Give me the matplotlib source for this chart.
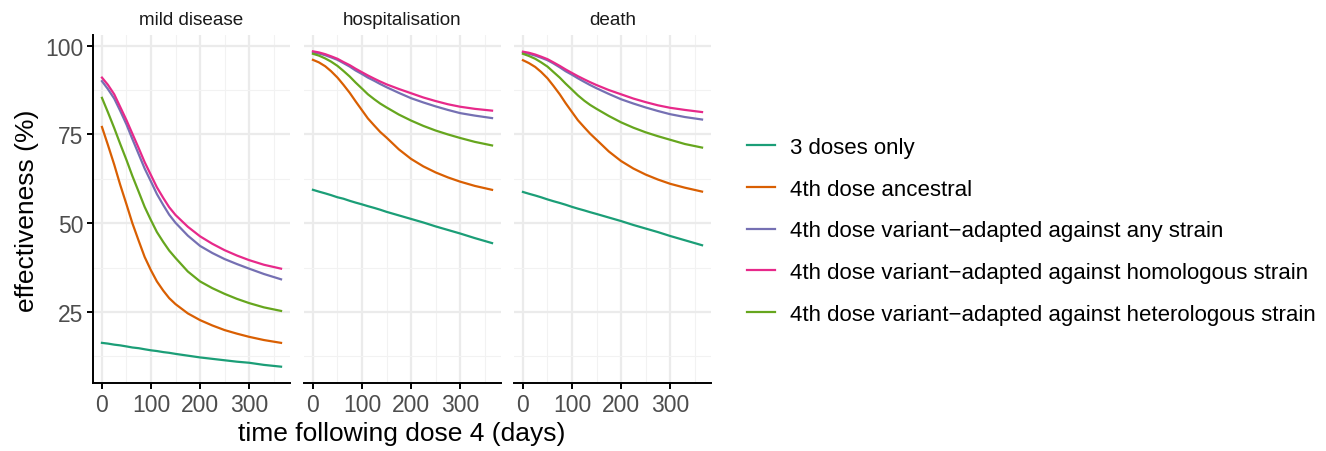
import numpy as np
import matplotlib.pyplot as plt
from matplotlib.lines import Line2D

plt.rcParams['font.family'] = ['Liberation Sans', 'DejaVu Sans']

# Values (effectiveness in %)
days = [0, 12, 25, 37, 50, 62, 75, 87, 100, 112, 125, 137, 150, 175, 200, 225, 250, 275, 300, 330, 365]
panels = ['mild disease', 'hospitalisation', 'death']
series = ['3 doses only',
          '4th dose ancestral',
          '4th dose variant\u2212adapted against any strain',
          '4th dose variant\u2212adapted against homologous strain',
          '4th dose variant\u2212adapted against heterologous strain']
colors = ['#1B9E77', '#D95F02', '#7570B3', '#E7298A', '#66A61E']

mild_three = [16.3, 16.1, 15.8, 15.6, 15.3, 15.0, 14.8, 14.5, 14.2, 14.0, 13.7, 13.5, 13.2,
              12.7, 12.2, 11.8, 11.4, 11.0, 10.7, 10.1, 9.6]
mild_ancestral = [77.1, 72.1, 66.5, 60.9, 55.3, 50.0, 45.0, 40.5, 36.7, 33.6, 31.0, 28.9, 27.2,
                  24.6, 22.7, 21.2, 19.9, 18.9, 18.0, 17.1, 16.3]
mild_any = [90.0, 87.8, 85.1, 81.7, 77.8, 73.7, 69.4, 65.4, 61.7, 58.2, 55.1, 52.4, 50.1,
            46.5, 43.6, 41.6, 39.9, 38.5, 37.2, 35.7, 34.2]
mild_homologous = [91.0, 89.0, 86.3, 82.8, 79.0, 75.2, 71.1, 67.2, 63.5, 60.1, 57.1, 54.5, 52.3,
                   49.0, 46.3, 44.2, 42.4, 40.9, 39.6, 38.3, 37.2]
mild_heterologous = [85.3, 81.3, 76.8, 72.4, 67.8, 63.3, 58.8, 54.6, 50.8, 47.5, 44.7, 42.3, 40.2,
                     36.4, 33.6, 31.7, 30.1, 28.7, 27.5, 26.3, 25.3]

hosp_three = [59.4, 58.9, 58.4, 57.9, 57.3, 56.9, 56.3, 55.8, 55.3, 54.8, 54.3, 53.8, 53.2,
              52.2, 51.2, 50.2, 49.1, 48.1, 47.1, 45.8, 44.4]
hosp_ancestral = [96.0, 95.3, 94.2, 92.8, 91.0, 89.0, 86.7, 84.3, 81.8, 79.5, 77.5, 75.7, 74.1,
                  70.8, 68.1, 66.0, 64.3, 62.9, 61.7, 60.5, 59.4]
hosp_any = [98.1, 97.8, 97.3, 96.7, 96.0, 95.1, 94.1, 93.0, 92.0, 91.0, 90.1, 89.2, 88.3,
            86.7, 85.2, 84.0, 82.9, 81.9, 81.0, 80.3, 79.6]
hosp_homologous = [98.4, 98.1, 97.6, 97.0, 96.3, 95.4, 94.5, 93.5, 92.5, 91.6, 90.7, 89.9, 89.1,
                   87.8, 86.6, 85.4, 84.4, 83.5, 82.8, 82.2, 81.7]
hosp_heterologous = [97.7, 97.2, 96.4, 95.5, 94.3, 92.9, 91.3, 89.6, 87.9, 86.3, 84.9, 83.7, 82.6,
                     80.6, 78.9, 77.4, 76.1, 75.0, 74.0, 72.9, 71.9]

death_three = [58.8, 58.3, 57.8, 57.3, 56.7, 56.2, 55.7, 55.2, 54.6, 54.1, 53.6, 53.1, 52.6,
               51.6, 50.6, 49.5, 48.5, 47.5, 46.4, 45.2, 43.8]
death_ancestral = [95.9, 95.1, 94.0, 92.6, 90.8, 88.7, 86.3, 83.8, 81.3, 79.0, 77.0, 75.2, 73.5,
                   70.2, 67.5, 65.4, 63.7, 62.3, 61.1, 60.0, 58.9]
death_any = [98.1, 97.7, 97.2, 96.6, 95.9, 95.0, 93.9, 92.8, 91.8, 90.8, 89.8, 88.9, 88.0,
             86.4, 84.9, 83.7, 82.6, 81.6, 80.7, 79.9, 79.2]
death_homologous = [98.3, 98.0, 97.5, 96.9, 96.2, 95.3, 94.3, 93.3, 92.3, 91.4, 90.5, 89.7, 88.9,
                    87.5, 86.3, 85.1, 84.1, 83.2, 82.5, 81.9, 81.3]
death_heterologous = [97.7, 97.1, 96.3, 95.3, 94.1, 92.6, 91.0, 89.3, 87.6, 86.0, 84.5, 83.3, 82.2,
                      80.2, 78.4, 76.9, 75.6, 74.5, 73.5, 72.3, 71.3]

data = [
    [mild_three, mild_ancestral, mild_any, mild_homologous, mild_heterologous],
    [hosp_three, hosp_ancestral, hosp_any, hosp_homologous, hosp_heterologous],
    [death_three, death_ancestral, death_any, death_homologous, death_heterologous],
]

W, H = 1326, 452
fig = plt.figure(figsize=(W / 100, H / 100), dpi=100)

# panel boxes in pixels
lefts = [93, 304, 514]
pw = 197
top, bottom = 36, 384

grey = '#4D4D4D'
for i, name in enumerate(panels):
    ax = fig.add_axes([lefts[i] / W, (H - bottom) / H, pw / W, (bottom - top) / H])
    for vals, c in zip(data[i], colors):
        ax.plot(days, vals, color=c, lw=1.6, solid_joinstyle='round', zorder=3)

    ax.set_xlim(-18.25, 383.25)
    ax.set_ylim(5.0, 103.0)
    ax.set_xticks([0, 100, 200, 300])
    ax.set_xticks([50, 150, 250, 350], minor=True)
    ax.set_yticks([25, 50, 75, 100])
    ax.set_yticks([12.5, 37.5, 62.5, 87.5], minor=True)
    ax.grid(True, which='major', color='#EBEBEB', lw=1.6)
    ax.grid(True, which='minor', color='#F2F2F2', lw=0.8)
    ax.set_axisbelow(True)

    for s in ['top', 'right']:
        ax.spines[s].set_visible(False)
    ax.spines['bottom'].set_linewidth(1.4)
    ax.spines['left'].set_linewidth(1.4)
    ax.tick_params(which='minor', length=0)
    ax.tick_params(axis='x', which='major', length=4, width=1.4, color='black',
                   labelsize=16.5, labelcolor=grey, pad=3)
    if i == 0:
        ax.tick_params(axis='y', which='major', length=4, width=1.4, color='black',
                       labelsize=16.5, labelcolor=grey, pad=3)
    else:
        ax.spines['left'].set_visible(False)
        ax.tick_params(axis='y', which='major', length=0, labelleft=False)

    ax.set_title(name, fontsize=13.6, color='#1A1A1A', pad=8)

fig.text((lefts[0] + lefts[2] + pw) / 2 / W, 1 - 434 / H, 'time following dose 4 (days)',
         ha='center', va='center', fontsize=19)
fig.text(27 / W, 1 - 211 / H, 'effectiveness (%)', rotation=90,
         ha='center', va='center', fontsize=19)

handles = [Line2D([], [], color=c, lw=1.6) for c in colors]
fig.legend(handles, series, loc='center left', bbox_to_anchor=(727 / W, 1 - 232 / H),
           frameon=False, fontsize=16, handlelength=1.25, handletextpad=0.7,
           labelspacing=0.93)

fig.savefig('out.png', dpi=100, facecolor='white')
